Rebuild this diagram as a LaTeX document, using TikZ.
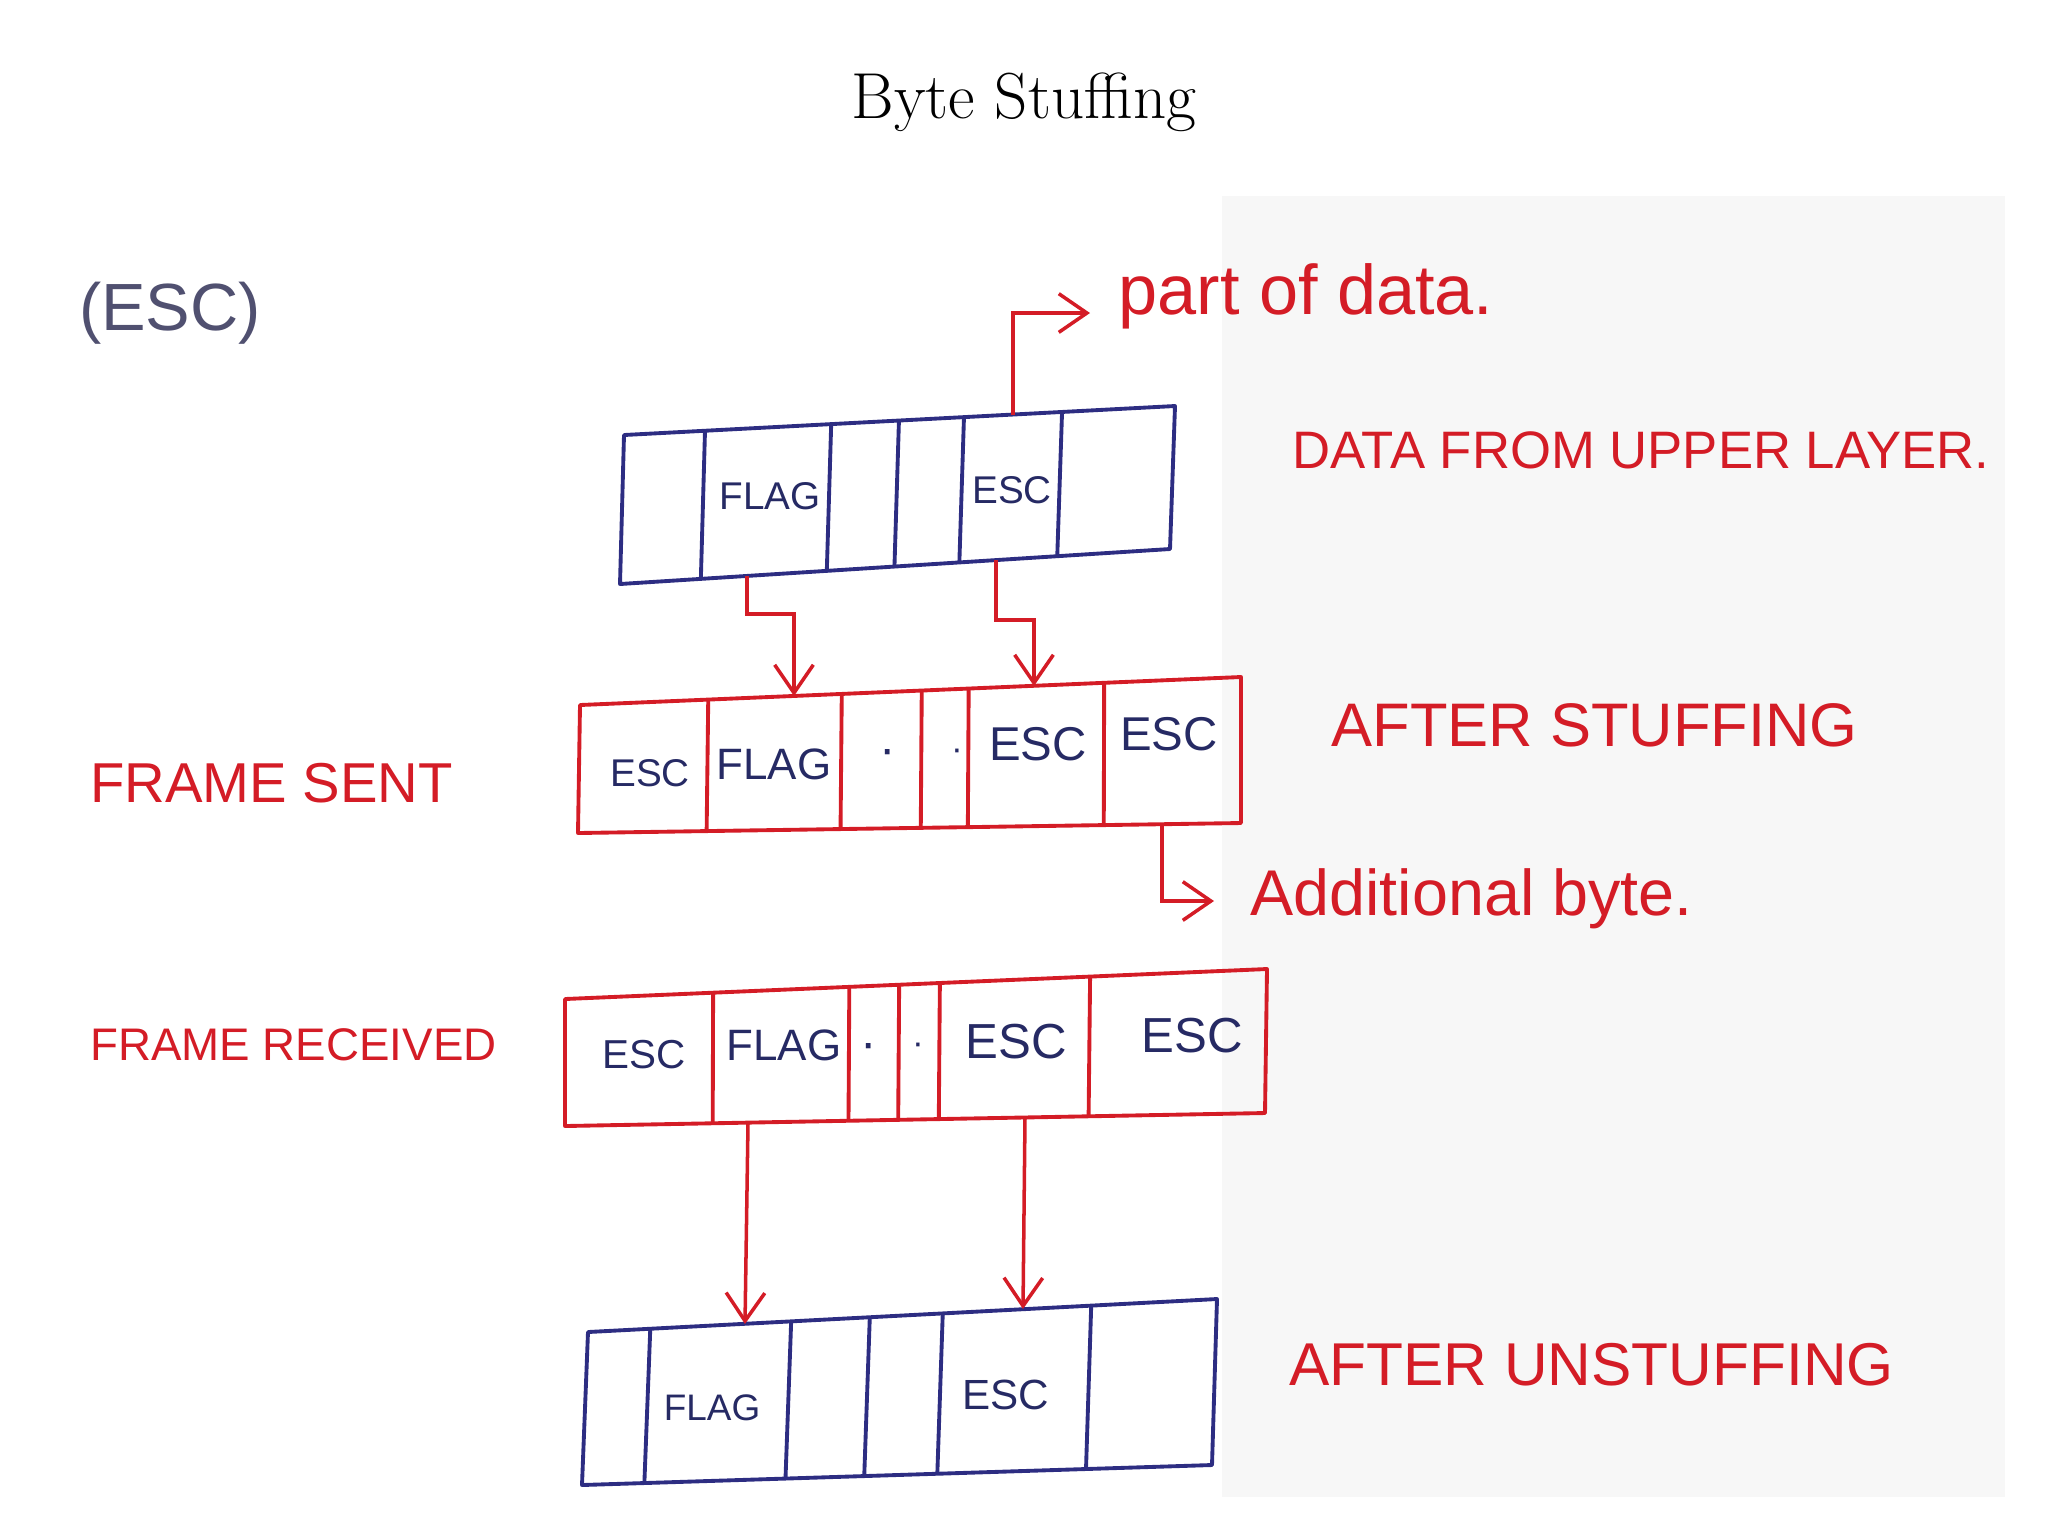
\documentclass[tikz,border=0pt]{standalone}
\usepackage{fontspec}
\newfontfamily\handfont{Liberation Sans}
\usetikzlibrary{calc}
\usetikzlibrary{arrows.meta}

\definecolor{inkred}{RGB}{212,28,38}
\definecolor{inkblue}{RGB}{45,45,130}
\definecolor{inkcell}{RGB}{38,42,100}
\definecolor{inkgray}{RGB}{80,80,112}

\tikzset{
  frameline/.style={line width=1.1pt, line join=round},
  celltext/.style={text=inkcell, font=\handfont\fontsize{#1}{#1}\selectfont},
  hand/.style={text=inkred, font=\handfont\fontsize{#1}{#1}\selectfont, anchor=west},
  redarrow/.style={inkred, line width=1pt, ->, >={Straight Barb[length=8pt,width=11pt]}},
}

\begin{document}
\begin{tikzpicture}[x=0.1mm,y=-0.1mm]
        \useasboundingbox (0,0) rectangle (2048,1536);
        \fill[black!3] (1222,196) rectangle (2005,1497);
        \node (title) at (1024,102) {\fontsize{18.5}{22}\selectfont Byte Stuffing};
        \node[text=inkgray, font=\handfont\fontsize{19}{19}\selectfont] (esc) at (170,313) {(ESC)};

        % data from upper layer
        \coordinate (d-tl) at (624,435);
        \coordinate (d-tr) at (1175,406);
        \coordinate (d-br) at (1170,549);
        \coordinate (d-bl) at (620,584);
        \draw[inkblue,frameline] (d-tl)--(d-tr)--(d-br)--(d-bl)--cycle;
        \foreach \f in {0.147,0.376,0.499,0.617,0.795}
          \draw[inkblue,frameline] ($(d-tl)!\f!(d-tr)$)--($(d-bl)!\f!(d-br)$);
        \node[celltext=11] (d-flag) at (770,496) {FLAG};
        \node[celltext=11] (d-esc) at (1012,490) {ESC};
        \node[hand=15] (d-lab) at (1280,450) {DATA FROM UPPER LAYER.};

        % after stuffing
        \coordinate (s-tl) at (580,705);
        \coordinate (s-tr) at (1241,677);
        \coordinate (s-br) at (1241,823);
        \coordinate (s-bl) at (578,833);
        \draw[inkred,frameline] (s-tl)--(s-tr)--(s-br)--(s-bl)--cycle;
        \foreach \f in {0.194,0.396,0.517,0.588,0.793}
          \draw[inkred,frameline] ($(s-tl)!\f!(s-tr)$)--($(s-bl)!\f!(s-br)$);
        \node[celltext=11] (s-esc1) at (650,773) {ESC};
        \node[celltext=12.5] (s-flag) at (774,764) {FLAG};
        \node[celltext=14] (s-dot1) at (888,757) {·};
        \node[celltext=10] (s-dot2) at (957,755) {·};
        \node[celltext=13.5] (s-esc2) at (1038,744) {ESC};
        \node[celltext=13.5] (s-esc3) at (1169,734) {ESC};
        \node[hand=17.5] (s-lab) at (1319,725) {AFTER STUFFING};
        \node[hand=16] (sent) at (78,783) {FRAME SENT};

        % frame received
        \coordinate (r-tl) at (565,999);
        \coordinate (r-tr) at (1267,969);
        \coordinate (r-br) at (1265,1113);
        \coordinate (r-bl) at (565,1126);
        \draw[inkred,frameline] (r-tl)--(r-tr)--(r-br)--(r-bl)--cycle;
        \foreach \f in {0.211,0.405,0.476,0.534,0.748}
          \draw[inkred,frameline] ($(r-tl)!\f!(r-tr)$)--($(r-bl)!\f!(r-br)$);
        \node[celltext=11.5] (r-esc1) at (644,1055) {ESC};
        \node[celltext=12.5] (r-flag) at (784,1045) {FLAG};
        \node[celltext=14] (r-dot1) at (869,1051) {·};
        \node[celltext=10] (r-dot2) at (918,1049) {·};
        \node[celltext=14] (r-esc2) at (1016,1042) {ESC};
        \node[celltext=14] (r-esc3) at (1192,1036) {ESC};
        \node[hand=13] (received) at (78,1045) {FRAME RECEIVED};

        % after unstuffing
        \coordinate (u-tl) at (588,1332);
        \coordinate (u-tr) at (1217,1299);
        \coordinate (u-br) at (1212,1465);
        \coordinate (u-bl) at (582,1485);
        \draw[inkblue,frameline] (u-tl)--(u-tr)--(u-br)--(u-bl)--cycle;
        \foreach \f in {0.099,0.323,0.448,0.564,0.800}
          \draw[inkblue,frameline] ($(u-tl)!\f!(u-tr)$)--($(u-bl)!\f!(u-br)$);
        \node[celltext=10.5] (u-flag) at (712,1408) {FLAG};
        \node[celltext=12] (u-esc) at (1006,1395) {ESC};
        \node[hand=17.2] (u-lab) at (1277,1365) {AFTER UNSTUFFING};

        % arrows
        \coordinate (d-esct) at (1013,415);
        \coordinate (p-tip) at (1090,313);
        \draw[redarrow] (d-esct) |- (p-tip);
        \node[hand=20] (part) at (1106,296) {part of data.};

        \coordinate (d-flagb) at (747,576);
        \coordinate (s-flagt) at (794,696);
        \draw[redarrow] (d-flagb) -- ++(0,38) -| (s-flagt);
        \coordinate (d-escb) at (996,560);
        \coordinate (s-esct) at (1034,686);
        \draw[redarrow] (d-escb) -- ++(0,60) -| (s-esct);

        \coordinate (s-escb) at (1162,824);
        \coordinate (a-tip) at (1214,901);
        \draw[redarrow] (s-escb) |- (a-tip);
        \node[hand=18.4] (addl) at (1238,899) {Additional byte.};

        \coordinate (r-flagb) at (748,1123);
        \coordinate (u-flagt) at (745,1324);
        \draw[redarrow] (r-flagb) -- (u-flagt);
        \coordinate (r-escb) at (1025,1117);
        \coordinate (u-esct) at (1023,1309);
        \draw[redarrow] (r-escb) -- (u-esct);
\end{tikzpicture}
\end{document}
